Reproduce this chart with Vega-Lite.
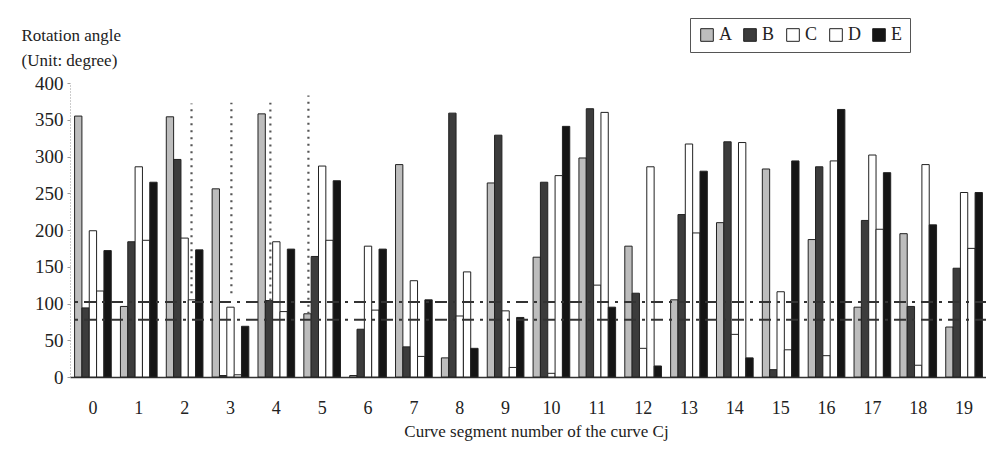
{
  "$schema": "https://vega.github.io/schema/vega-lite/v6.json",
  "width": 917,
  "height": 294,
  "autosize": {"type": "none"},
  "padding": {"left": 70, "top": 83, "right": 0, "bottom": 79},
  "background": "#ffffff",
  "config": {
    "font": "Liberation Serif",
    "view": {"stroke": null},
    "style": {
      "guide-label": {"font": "Liberation Serif"},
      "guide-title": {"font": "Liberation Serif"}
    },
    "axis": {"labelFont": "Liberation Serif", "titleFont": "Liberation Serif", "titleFontWeight": "normal", "labelColor": "#222", "titleColor": "#222"},
    "axisLeft": {"labelFont": "Liberation Serif", "titleFont": "Liberation Serif"},
    "axisY": {"labelFont": "Liberation Serif", "titleFont": "Liberation Serif"},
    "legend": {"labelFont": "Liberation Serif", "titleFont": "Liberation Serif"}
  },
  "datasets": {
    "bars": [
      {"seg": 0, "type": "A", "angle": 355}, {"seg": 0, "type": "B", "angle": 94}, {"seg": 0, "type": "C", "angle": 199}, {"seg": 0, "type": "D", "angle": 117}, {"seg": 0, "type": "E", "angle": 172},
      {"seg": 1, "type": "A", "angle": 96}, {"seg": 1, "type": "B", "angle": 184}, {"seg": 1, "type": "C", "angle": 286}, {"seg": 1, "type": "D", "angle": 186}, {"seg": 1, "type": "E", "angle": 265},
      {"seg": 2, "type": "A", "angle": 354}, {"seg": 2, "type": "B", "angle": 296}, {"seg": 2, "type": "C", "angle": 189}, {"seg": 2, "type": "D", "angle": 105}, {"seg": 2, "type": "E", "angle": 173},
      {"seg": 3, "type": "A", "angle": 256}, {"seg": 3, "type": "B", "angle": 2}, {"seg": 3, "type": "C", "angle": 95}, {"seg": 3, "type": "D", "angle": 3}, {"seg": 3, "type": "E", "angle": 69},
      {"seg": 4, "type": "A", "angle": 358}, {"seg": 4, "type": "B", "angle": 104}, {"seg": 4, "type": "C", "angle": 184}, {"seg": 4, "type": "D", "angle": 89}, {"seg": 4, "type": "E", "angle": 174},
      {"seg": 5, "type": "A", "angle": 86}, {"seg": 5, "type": "B", "angle": 164}, {"seg": 5, "type": "C", "angle": 287}, {"seg": 5, "type": "D", "angle": 186}, {"seg": 5, "type": "E", "angle": 267},
      {"seg": 6, "type": "A", "angle": 2}, {"seg": 6, "type": "B", "angle": 65}, {"seg": 6, "type": "C", "angle": 178}, {"seg": 6, "type": "D", "angle": 91}, {"seg": 6, "type": "E", "angle": 174},
      {"seg": 7, "type": "A", "angle": 289}, {"seg": 7, "type": "B", "angle": 41}, {"seg": 7, "type": "C", "angle": 131}, {"seg": 7, "type": "D", "angle": 28}, {"seg": 7, "type": "E", "angle": 105},
      {"seg": 8, "type": "A", "angle": 26}, {"seg": 8, "type": "B", "angle": 359}, {"seg": 8, "type": "C", "angle": 83}, {"seg": 8, "type": "D", "angle": 143}, {"seg": 8, "type": "E", "angle": 39},
      {"seg": 9, "type": "A", "angle": 264}, {"seg": 9, "type": "B", "angle": 329}, {"seg": 9, "type": "C", "angle": 90}, {"seg": 9, "type": "D", "angle": 13}, {"seg": 9, "type": "E", "angle": 81},
      {"seg": 10, "type": "A", "angle": 163}, {"seg": 10, "type": "B", "angle": 265}, {"seg": 10, "type": "C", "angle": 5}, {"seg": 10, "type": "D", "angle": 274}, {"seg": 10, "type": "E", "angle": 341},
      {"seg": 11, "type": "A", "angle": 298}, {"seg": 11, "type": "B", "angle": 365}, {"seg": 11, "type": "C", "angle": 125}, {"seg": 11, "type": "D", "angle": 360}, {"seg": 11, "type": "E", "angle": 95},
      {"seg": 12, "type": "A", "angle": 178}, {"seg": 12, "type": "B", "angle": 114}, {"seg": 12, "type": "C", "angle": 39}, {"seg": 12, "type": "D", "angle": 286}, {"seg": 12, "type": "E", "angle": 15},
      {"seg": 13, "type": "A", "angle": 105}, {"seg": 13, "type": "B", "angle": 221}, {"seg": 13, "type": "C", "angle": 317}, {"seg": 13, "type": "D", "angle": 196}, {"seg": 13, "type": "E", "angle": 280},
      {"seg": 14, "type": "A", "angle": 210}, {"seg": 14, "type": "B", "angle": 320}, {"seg": 14, "type": "C", "angle": 58}, {"seg": 14, "type": "D", "angle": 319}, {"seg": 14, "type": "E", "angle": 26},
      {"seg": 15, "type": "A", "angle": 283}, {"seg": 15, "type": "B", "angle": 10}, {"seg": 15, "type": "C", "angle": 116}, {"seg": 15, "type": "D", "angle": 37}, {"seg": 15, "type": "E", "angle": 294},
      {"seg": 16, "type": "A", "angle": 187}, {"seg": 16, "type": "B", "angle": 286}, {"seg": 16, "type": "C", "angle": 29}, {"seg": 16, "type": "D", "angle": 294}, {"seg": 16, "type": "E", "angle": 364},
      {"seg": 17, "type": "A", "angle": 95}, {"seg": 17, "type": "B", "angle": 213}, {"seg": 17, "type": "C", "angle": 302}, {"seg": 17, "type": "D", "angle": 201}, {"seg": 17, "type": "E", "angle": 278},
      {"seg": 18, "type": "A", "angle": 195}, {"seg": 18, "type": "B", "angle": 96}, {"seg": 18, "type": "C", "angle": 16}, {"seg": 18, "type": "D", "angle": 289}, {"seg": 18, "type": "E", "angle": 207},
      {"seg": 19, "type": "A", "angle": 68}, {"seg": 19, "type": "B", "angle": 148}, {"seg": 19, "type": "C", "angle": 251}, {"seg": 19, "type": "D", "angle": 175}, {"seg": 19, "type": "E", "angle": 251}
    ],
    "vlines": [
      {"pos": 2.15, "lo": 114, "hi": 372},
      {"pos": 3.02, "lo": 114, "hi": 373},
      {"pos": 3.87, "lo": 104, "hi": 373},
      {"pos": 4.70, "lo": 86, "hi": 383}
    ],
    "hlines": [{"v": 102}, {"v": 78}]
  },
  "layer": [
    {
      "data": {"name": "bars"},
      "mark": {"type": "bar", "stroke": "#222", "strokeWidth": 1},
      "encoding": {
        "x": {
          "field": "seg", "type": "ordinal",
          "scale": {"paddingInner": 0.2, "paddingOuter": 0.1},
          "axis": {
            "title": "Curve segment number of the curve Cj",
            "titleFontSize": 17, "titleFontWeight": "normal",
            "titleX": 466, "titleY": 46, "titleBaseline": "top",
            "labelAngle": 0, "labelFontSize": 18, "labelPadding": 22,
            "ticks": false, "domainColor": "#333", "domainWidth": 1.5
          }
        },
        "xOffset": {"field": "type", "scale": {"paddingInner": 0, "paddingOuter": 0}},
        "y": {
          "field": "angle", "type": "quantitative",
          "scale": {"domain": [0, 400]},
          "axis": {
            "title": ["Rotation angle", "(Unit: degree)"],
            "titleFont": "Liberation Serif", "labelFont": "Liberation Serif",
            "titleFontSize": 17, "titleFontWeight": "normal",
            "titleAngle": 0, "titleAlign": "left", "titleBaseline": "top",
            "titleX": -49, "titleY": -56, "titleLineHeight": 25,
            "values": [0, 50, 100, 150, 200, 250, 300, 350, 400],
            "labelOverlap": false, "labelFontSize": 19, "labelPadding": 4,
            "grid": false, "tickSize": 3, "tickColor": "#999",
            "domainColor": "#999", "domainDash": [1, 2]
          }
        },
        "color": {
          "field": "type", "type": "nominal",
          "scale": {"domain": ["A", "B", "C", "D", "E"], "range": ["#bdbdbd", "#3c3c3c", "#ffffff", "#ffffff", "#151515"]},
          "legend": {
            "orient": "none", "legendX": 620, "legendY": -65, "direction": "horizontal",
            "title": null, "symbolType": "square", "symbolSize": 160,
            "symbolStrokeColor": "#222", "symbolStrokeWidth": 1, "symbolOpacity": 1,
            "labelFontSize": 18, "labelColor": "#222", "labelOffset": 3, "columnPadding": 9,
            "strokeColor": "#555", "padding": 8
          }
        }
      }
    },
    {
      "data": {"name": "vlines"},
      "mark": {"type": "rule", "strokeDash": [2, 5], "strokeWidth": 2.2, "color": "#555"},
      "encoding": {
        "x": {"field": "pos", "type": "quantitative", "scale": {"domain": [-0.5, 19.5], "nice": false, "zero": false}, "axis": null},
        "y": {"field": "lo", "type": "quantitative", "scale": {"domain": [0, 400]}, "axis": null},
        "y2": {"field": "hi"}
      }
    },
    {
      "data": {"name": "hlines"},
      "mark": {"type": "rule", "strokeDash": [12, 6, 3, 6], "strokeWidth": 2, "color": "#333"},
      "encoding": {
        "y": {"field": "v", "type": "quantitative", "scale": {"domain": [0, 400]}, "axis": null}
      }
    }
  ],
  "resolve": {"scale": {"x": "independent", "y": "independent"}}
}
